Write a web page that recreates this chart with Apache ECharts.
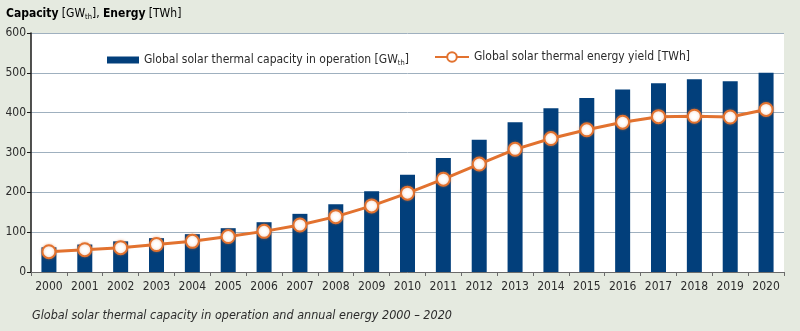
<!DOCTYPE html>
<html>
<head>
<meta charset="utf-8">
<style>
  html, body { margin: 0; padding: 0; background: #e5eae0; }
  #chart { width: 800px; height: 331px; }
</style>
<script src="https://cdn.jsdelivr.net/npm/echarts@6/dist/echarts.min.js"></script>
</head>
<body>
<div id="chart"></div>
<script>
// Years on the category axis
const years = ['2000','2001','2002','2003','2004','2005','2006','2007','2008','2009','2010',
               '2011','2012','2013','2014','2015','2016','2017','2018','2019','2020'];
// Global solar thermal capacity in operation [GWth]
const capacity = [62, 69, 77, 85, 95, 110, 125, 146, 170, 203, 244,
                  286, 332, 376, 411, 437, 458, 474, 484, 479, 500];
// Global solar thermal energy yield [TWh]
const energy = [51, 56, 61, 69, 77, 89, 102, 118, 139, 166, 198,
                233, 271, 308, 335, 357, 376, 390, 391, 389, 408];
// Value axis range and step
const yMin = 0, yMax = 600, yStep = 100;

const FONT = "'DejaVu Sans Condensed', 'Liberation Sans Narrow', 'Noto Sans', sans-serif";
const BAR = '#023f7b';
const LINE = '#e2722f';
const TEXT = '#2b2b2b';

const chart = echarts.init(document.getElementById('chart'), null, { renderer: 'canvas' });

const legendRich = {
  n: { fontFamily: FONT, fontSize: 12, color: TEXT },
  s: { fontFamily: FONT, fontSize: 7.5, color: TEXT, verticalAlign: 'bottom', padding: [6, 0, 0, 0] }
};

chart.setOption({
  backgroundColor: '#e5eae0',
  animation: false,
  textStyle: { fontFamily: FONT, color: TEXT },
  grid: { left: 31, right: 16, top: 33, bottom: 59, containLabel: false,
          show: true, backgroundColor: '#ffffff', borderWidth: 0 },
  graphic: [
    {
      type: 'text', left: 6, top: 8,
      style: {
        text: '{b|Capacity} {n|[GW}{s|th}{n|],} {b|Energy} {n|[TWh]}',
        rich: {
          b: { fontFamily: FONT, fontSize: 12, fontWeight: 'bold', color: TEXT },
          n: { fontFamily: FONT, fontSize: 12, color: TEXT },
          s: { fontFamily: FONT, fontSize: 7.5, color: TEXT, verticalAlign: 'bottom', padding: [6, 0, 0, 0] }
        }
      }
    },
    {
      type: 'text', left: 32, top: 309,
      style: {
        text: 'Global solar thermal capacity in operation and annual energy 2000 – 2020',
        fontFamily: FONT, fontSize: 12.5, fontStyle: 'italic', fill: TEXT
      }
    }
  ],
  legend: [
    {
      data: [{ name: 'cap', icon: 'rect' }],
      left: 102, top: 49,
      itemWidth: 32, itemHeight: 7, itemGap: 8,
      formatter: () => '{n|Global solar thermal capacity in operation [GW}{s|th}{n|]}',
      textStyle: { rich: legendRich },
      selectedMode: false
    },
    {
      data: ['yield'],
      left: 429, top: 46,
      itemWidth: 34, itemHeight: 12, itemGap: 7,
      formatter: () => '{n|Global solar thermal energy yield [TWh]}',
      textStyle: { rich: legendRich },
      selectedMode: false
    }
  ],
  xAxis: {
    type: 'category',
    data: years,
    boundaryGap: true,
    axisLine: { show: true, lineStyle: { color: '#6b6b6b', width: 1 } },
    axisTick: { show: true, alignWithLabel: false, length: 4, interval: 0, lineStyle: { color: '#6b6b6b' } },
    axisLabel: { fontFamily: FONT, fontSize: 12, color: TEXT, margin: 9, interval: 0 }
  },
  yAxis: {
    type: 'value',
    min: yMin, max: yMax, interval: yStep,
    axisLine: { show: true, lineStyle: { color: '#1a1a1a', width: 1.5 } },
    axisTick: { show: true, length: 4, lineStyle: { color: '#1a1a1a' } },
    axisLabel: { fontFamily: FONT, fontSize: 12, color: TEXT, margin: 5 },
    splitLine: { show: true, lineStyle: { color: '#9fb0bf', width: 1 } }
  },
  series: [
    {
      name: 'cap',
      type: 'bar',
      data: capacity,
      barWidth: 15,
      itemStyle: { color: BAR }
    },
    {
      name: 'yield',
      type: 'line',
      data: energy,
      symbol: 'circle',
      symbolSize: 13,
      lineStyle: { color: LINE, width: 3 },
      itemStyle: {
        color: '#ffffff', borderColor: LINE, borderWidth: 2,
        shadowColor: 'rgba(226,114,47,0.4)', shadowBlur: 3
      },
      z: 3
    }
  ]
});
</script>
</body>
</html>
